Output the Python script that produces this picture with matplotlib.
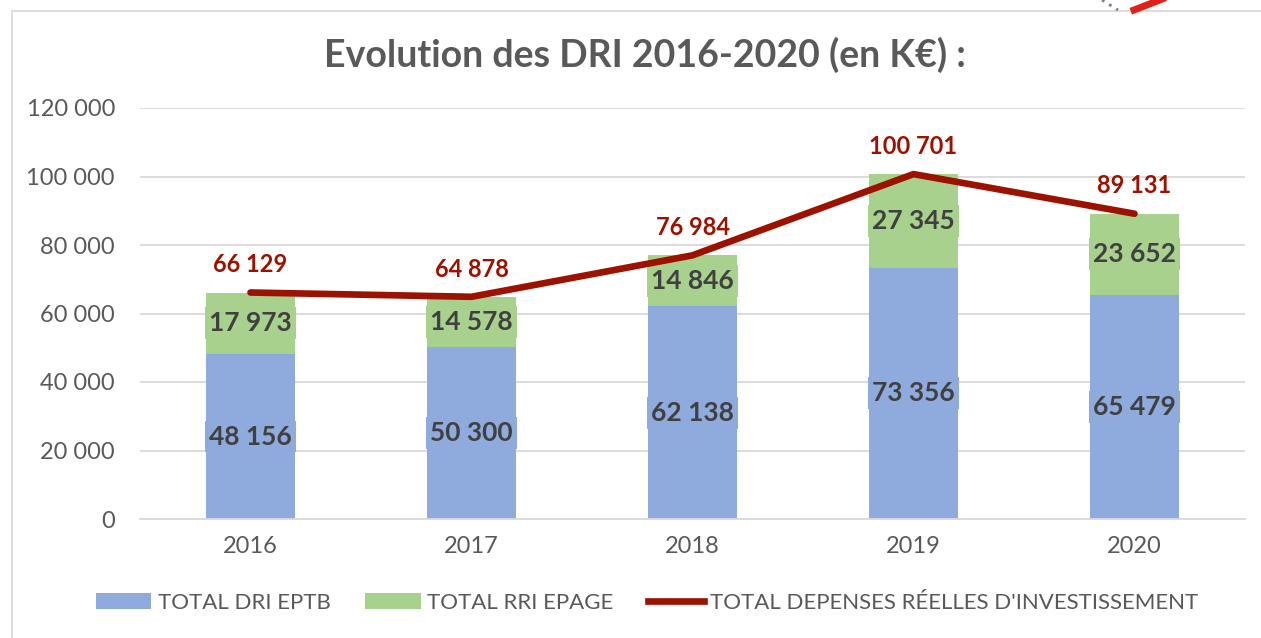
import matplotlib
matplotlib.use("Agg")
import matplotlib.pyplot as plt
from matplotlib.lines import Line2D
from matplotlib.patches import Rectangle, Patch

years = ["2016", "2017", "2018", "2019", "2020"]
dri_eptb = [48156, 50300, 62138, 73356, 65479]
rri_epage = [17973, 14578, 14846, 27345, 23652]
total_dep = [66129, 64878, 76984, 100701, 89131]
yticks = [0, 20000, 40000, 60000, 80000, 100000, 120000]

title = "Evolution des DRI 2016-2020 (en K€) :"
legend_labels = ["TOTAL DRI EPTB", "TOTAL RRI EPAGE", "TOTAL DEPENSES RÉELLES D'INVESTISSEMENT"]

BLUE = "#8FAADC"
GREEN = "#A9D18E"
RED = "#9B1300"
GRAY = "#595959"
DARK = "#404040"

def fmt(v):
    return f"{v:,}".replace(",", " ")

plt.rcParams['font.family'] = ['Lato', 'DejaVu Sans']

fig = plt.figure(figsize=(12.61, 6.38), dpi=100)
W, H = 1261, 638
ax = fig.add_axes([140 / W, (638 - 519) / H, 1105 / W, 411 / H])

x = list(range(len(years)))
width = 0.4
ax.bar(x, dri_eptb, width, color=BLUE, zorder=2)
ax.bar(x, rri_epage, width, bottom=dri_eptb, color=GREEN, zorder=2)
ax.plot(x, total_dep, color=RED, lw=4.8, solid_capstyle='round', zorder=4)

for i in x:
    ax.text(i, dri_eptb[i] / 2, fmt(dri_eptb[i]), ha='center', va='center',
            fontsize=19, fontweight='bold', color=DARK, zorder=3,
            bbox=dict(boxstyle='square,pad=0.15', fc=BLUE, ec='none'))
    ax.text(i, dri_eptb[i] + rri_epage[i] / 2, fmt(rri_epage[i]), ha='center', va='center',
            fontsize=19, fontweight='bold', color=DARK, zorder=3,
            bbox=dict(boxstyle='square,pad=0.15', fc=GREEN, ec='none'))
    ax.annotate(fmt(total_dep[i]), (i, total_dep[i]), xytext=(0, 20),
                textcoords='offset points', ha='center', va='center',
                fontsize=17, fontweight='bold', color=RED, zorder=5)

ax.set_xlim(-0.5, len(years) - 0.5)
ax.set_ylim(0, 120000)
ax.set_yticks(yticks)
ax.set_yticklabels([fmt(v) for v in yticks])
ax.set_xticks(x)
ax.set_xticklabels(years)
ax.tick_params(axis='both', length=0, labelsize=17, labelcolor=GRAY)
ax.tick_params(axis='y', pad=18)
ax.tick_params(axis='x', pad=12)
ax.grid(axis='y', color='#D9D9D9', lw=1.3, zorder=0)
ax.set_axisbelow(True)
for s in ['top', 'right', 'left']:
    ax.spines[s].set_visible(False)
ax.spines['bottom'].set_color('#D9D9D9')
ax.spines['bottom'].set_linewidth(1.3)

fig.text(645 / W, 1 - 55 / H, title, ha='center', va='center',
         fontsize=27, fontweight='bold', color=GRAY)

handles = [Patch(fc=BLUE, ec='none'), Patch(fc=GREEN, ec='none'),
           Line2D([0], [0], color=RED, lw=4.8)]
fig.legend(handles, legend_labels, loc='center', bbox_to_anchor=(647 / W, 1 - 603 / H),
           ncol=3, frameon=False, fontsize=16, labelcolor=GRAY,
           handlelength=2.5, handleheight=0.7, handletextpad=0.3, columnspacing=1.55)

# chart frame
fig.patches.append(Rectangle((12 / W, -0.1), 1.2, (638 - 11) / H + 0.1,
                             transform=fig.transFigure, fill=False,
                             ec='#D9D9D9', lw=1.3))
# decoration at top right
fig.add_artist(Line2D([1102 / W, 1118 / W], [1 - 0 / H, 1 - 10 / H], transform=fig.transFigure,
                      color='#808080', lw=2, ls=(0, (1, 2))))
fig.add_artist(Line2D([1134 / W, 1170 / W], [1 - 10 / H, 1 - (-4) / H], transform=fig.transFigure,
                      color='#E0201A', lw=5))

fig.savefig("out.png", dpi=100)
